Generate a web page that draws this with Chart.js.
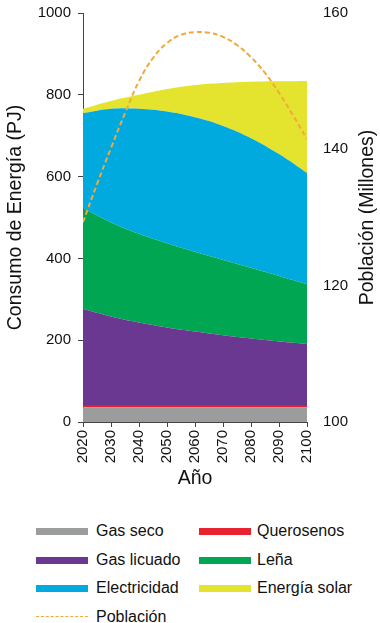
<!DOCTYPE html>
<html>
<head>
<meta charset="utf-8">
<script src="https://cdn.jsdelivr.net/npm/chart.js@4.4.1/dist/chart.umd.min.js"></script>
<style>
  html, body { margin: 0; padding: 0; background: #fff; }
  body { width: 380px; height: 623px; position: relative; overflow: hidden; font-family: "Liberation Sans", Arial, sans-serif; }
  #wrap { position: absolute; left: 0; top: 0; width: 380px; height: 490px; }
  .lg { position: absolute; font-size: 16px; color: #111; line-height: 18px; white-space: nowrap; }
  .sw { position: absolute; width: 52px; height: 7px; }
  .dash { position: absolute; width: 52px; height: 0; border-top: 1.5px dashed #f2a93b; }
</style>
</head>
<body>
<div id="wrap"><canvas id="c"></canvas></div>
<div id="legend"></div>
<script>
// ---- data ----
const years = [2020, 2030, 2040, 2050, 2060, 2070, 2080, 2090, 2100];
const gasSeco      = [36, 36, 36, 36, 36, 36, 36, 36, 36];
const querosenos   = [3, 3, 3, 3, 3, 3, 3, 3, 3];
const gasLicuado   = [237, 219, 204, 192, 182, 173, 165, 158, 152];
const lena         = [247, 230, 217, 206, 195, 184, 173, 160, 146];
const electricidad = [232, 278, 306, 322, 329, 328, 317, 298, 272];
const energiaSolar = [11, 19, 34, 55, 79, 105, 138, 178, 225];

const popYears  = [2020, 2025, 2030, 2035, 2040, 2045, 2050, 2055, 2060, 2065, 2070, 2075, 2080, 2085, 2090, 2095, 2100];
const poblacion = [129.3, 134.9, 140.2, 145.3, 150.0, 153.4, 155.6, 156.8, 157.2, 157.1, 156.5, 155.3, 153.5, 151.2, 148.3, 145.0, 141.5];

const leftTicks  = [0, 200, 400, 600, 800, 1000];
const rightTicks = [100, 120, 140, 160];
const xTicks     = [2020, 2030, 2040, 2050, 2060, 2070, 2080, 2090, 2100];

const seriesNames  = ['Gas seco', 'Querosenos', 'Gas licuado', 'Leña', 'Electricidad', 'Energía solar'];
const seriesValues = [gasSeco, querosenos, gasLicuado, lena, electricidad, energiaSolar];
const seriesColors = ['#9b9c9c', '#e8232f', '#6a3791', '#00a651', '#00aadf', '#e4e42e'];
const popName = 'Población';
const popColor = '#f2a93b';
const leftTitle = 'Consumo de Energía (PJ)';
const rightTitle = 'Población (Millones)';
const xTitle = 'Año';

// ---- chart ----
const toXY = (xs, ys) => xs.map((x, i) => ({ x: x, y: ys[i] }));

const datasets = seriesValues.map((vals, i) => ({
  label: seriesNames[i],
  data: toXY(years, vals),
  yAxisID: 'y',
  backgroundColor: seriesColors[i],
  borderColor: seriesColors[i],
  borderWidth: i === 1 ? 1 : 0,
  pointRadius: 0,
  fill: i === 0 ? 'origin' : '-1',
  tension: 0.4,
  stack: 'energy'
}));
datasets.push({
  label: popName,
  data: toXY(popYears, poblacion),
  yAxisID: 'y1',
  borderColor: popColor,
  borderWidth: 2,
  borderDash: [5, 3],
  pointRadius: 0,
  fill: false,
  tension: 0.4,
  order: -1
});

const fontFam = '"Liberation Sans", Arial, sans-serif';
Chart.defaults.font.family = fontFam;
Chart.defaults.color = '#111';

// right-axis title, reading bottom-to-top like the reference
const rightTitlePlugin = {
  id: 'rightTitle',
  afterDraw(chart) {
    const s = chart.scales.y1;
    const ctx = chart.ctx;
    ctx.save();
    ctx.translate(368, (s.top + s.bottom) / 2);
    ctx.rotate(-Math.PI / 2);
    ctx.font = '19.5px ' + fontFam;
    ctx.fillStyle = '#111';
    ctx.textAlign = 'center';
    ctx.textBaseline = 'middle';
    ctx.fillText(rightTitle, 0, 0);
    ctx.restore();
  }
};

const noPad = s => { s.paddingTop = 0; s.paddingBottom = 0; s.paddingLeft = 0; s.paddingRight = 0; };

new Chart(document.getElementById('c'), {
  type: 'line',
  data: { datasets: datasets },
  plugins: [rightTitlePlugin],
  options: {
    responsive: true,
    maintainAspectRatio: false,
    animation: false,
    events: [],
    layout: { padding: { top: 13, left: 0, right: 0, bottom: 0 } },
    plugins: { legend: { display: false }, tooltip: { enabled: false } },
    scales: {
      x: {
        type: 'linear',
        min: 2020, max: 2100,
        afterBuildTicks: s => { s.ticks = xTicks.map(v => ({ value: v })); },
        ticks: { minRotation: 90, maxRotation: 90, font: { size: 15 }, color: '#111', padding: 3, callback: v => String(v) },
        grid: { drawOnChartArea: false, drawTicks: true, tickLength: 5, color: '#444' },
        border: { display: true, color: '#444', width: 1 },
        title: { display: true, text: xTitle, font: { size: 19.5, lineHeight: 1.2 }, color: '#111', padding: 0 },
        afterFit: s => { s.height = 68; noPad(s); }
      },
      y: {
        type: 'linear',
        stacked: true,
        min: 0, max: 1000,
        afterBuildTicks: s => { s.ticks = leftTicks.map(v => ({ value: v })); },
        ticks: { font: { size: 15 }, color: '#111', padding: 7, callback: v => String(v) },
        grid: { drawOnChartArea: false, drawTicks: true, tickLength: 5, color: '#444' },
        border: { display: true, color: '#444', width: 1 },
        title: { display: true, text: leftTitle, font: { size: 19.5, lineHeight: 1.6 }, color: '#111', padding: 0 },
        afterFit: s => { s.width = 83; noPad(s); }
      },
      y1: {
        type: 'linear',
        position: 'right',
        min: 100, max: 160,
        afterBuildTicks: s => { s.ticks = rightTicks.map(v => ({ value: v })); },
        ticks: { font: { size: 15 }, color: '#111', padding: 16, callback: v => String(v) },
        grid: { display: false, drawTicks: false },
        border: { display: false },
        title: { display: false },
        afterFit: s => { s.width = 73; noPad(s); }
      }
    }
  }
});

// ---- legend (HTML, built from the series arrays) ----
const legendEl = document.getElementById('legend');
const legendItems = seriesNames.map((n, i) => ({ name: n, color: seriesColors[i], dashed: false }));
legendItems.push({ name: popName, color: popColor, dashed: true });
const rowY = [531, 560, 588, 617];
const colX = [36, 199];
const textX = [96, 257];
legendItems.forEach((it, i) => {
  const col = it.dashed ? 0 : i % 2;
  const row = it.dashed ? 3 : Math.floor(i / 2);
  const cy = rowY[row];
  const sw = document.createElement('div');
  if (it.dashed) {
    sw.className = 'dash';
    sw.style.left = colX[col] + 'px';
    sw.style.top = (cy - 1) + 'px';
  } else {
    sw.className = 'sw';
    sw.style.left = colX[col] + 'px';
    sw.style.top = (cy - 3.5) + 'px';
    sw.style.background = it.color;
  }
  legendEl.appendChild(sw);
  const tx = document.createElement('div');
  tx.className = 'lg';
  tx.textContent = it.name;
  tx.style.left = textX[col] + 'px';
  tx.style.top = (cy - 9) + 'px';
  legendEl.appendChild(tx);
});
</script>
</body>
</html>
